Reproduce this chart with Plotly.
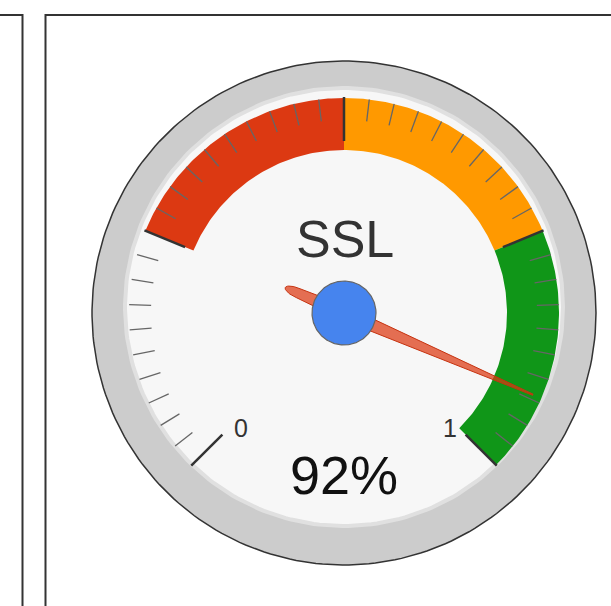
import numpy as np
import plotly.graph_objects as go

# gauge data
title = "SSL"
value = 0.92
value_text = "92%"
band_from = [0.25, 0.5, 0.75]
band_to = [0.5, 0.75, 1.0]
band_colors = ["#dc3912", "#ff9900", "#109618"]
major_ticks = [0, 0.25, 0.5, 0.75, 1]
major_labels = ["0", "", "", "", "1"]
minor_per_major = 10

W, H = 611, 606
cx, cy = 344, 313
R_OUT = 252
R_FACE = 219
R_BAND_OUT, R_BAND_IN = 215, 163


def ang(v):
    # degrees from straight up, clockwise; 270 degree sweep
    return np.radians(-135 + 270 * v)


def pt(v, r, x0=cx, y0=cy):
    a = ang(v)
    return x0 + r * np.sin(a), y0 - r * np.cos(a)


def circle(x0, y0, r, n=240):
    t = np.linspace(0, 2 * np.pi, n)
    return x0 + r * np.cos(t), y0 + r * np.sin(t)


fig = go.Figure()

# outer ring and face
xs, ys = circle(cx, cy, R_OUT)
fig.add_trace(go.Scatter(x=xs, y=ys, fill="toself", fillcolor="#cccccc",
                         line=dict(color="#333333", width=1.5), mode="lines", hoverinfo="skip"))
xs, ys = circle(cx, cy - 6, R_FACE)
fig.add_trace(go.Scatter(x=xs, y=ys, fill="toself", fillcolor="#f7f7f7",
                         line=dict(color="#e0e0e0", width=4), mode="lines", hoverinfo="skip"))

# colour bands
for f, t, c in zip(band_from, band_to, band_colors):
    vs = np.linspace(f, t, 80)
    ox, oy = pt(vs, R_BAND_OUT)
    ix, iy = pt(vs[::-1], R_BAND_IN)
    fig.add_trace(go.Scatter(x=np.r_[ox, ix, ox[:1]], y=np.r_[oy, iy, oy[:1]], fill="toself",
                             fillcolor=c, line=dict(width=0), mode="lines", hoverinfo="skip"))

# minor ticks
minor_x, minor_y = [], []
for a, b in zip(major_ticks[:-1], major_ticks[1:]):
    for k in range(1, minor_per_major):
        v = a + (b - a) * k / minor_per_major
        x1, y1 = pt(v, 193)
        x2, y2 = pt(v, 215)
        minor_x += [x1, x2, None]
        minor_y += [y1, y2, None]
fig.add_trace(go.Scatter(x=minor_x, y=minor_y, mode="lines",
                         line=dict(color="#666666", width=1.3), hoverinfo="skip"))

# major ticks
major_x, major_y = [], []
for v in major_ticks:
    x1, y1 = pt(v, 172)
    x2, y2 = pt(v, 216)
    major_x += [x1, x2, None]
    major_y += [y1, y2, None]
fig.add_trace(go.Scatter(x=major_x, y=major_y, mode="lines",
                         line=dict(color="#333333", width=2.5), hoverinfo="skip"))

# tick labels
for v, lab in zip(major_ticks, major_labels):
    if lab:
        lx, ly = pt(v, 151)
        fig.add_annotation(x=lx + (4 if v < 0.5 else -1), y=ly + 8, text=lab, showarrow=False,
                           font=dict(family="Arial, Liberation Sans", size=25, color="#333333"))

# needle
a = ang(value)
u_dir = np.array([np.sin(a), -np.cos(a)])
w_dir = np.array([np.cos(a), np.sin(a)])
tt = np.linspace(np.pi / 2, 3 * np.pi / 2, 30)
nu = np.r_[206, 0, -50 + 14 * np.cos(tt), 0, 206]
nw = np.r_[0.6, 7, 4.8 * np.sin(tt), -7, -0.6]
fig.add_trace(go.Scatter(x=cx + nu * u_dir[0] + nw * w_dir[0],
                         y=cy + nu * u_dir[1] + nw * w_dir[1],
                         fill="toself", fillcolor="rgba(220,57,18,0.72)",
                         line=dict(color="#c63310", width=1), mode="lines", hoverinfo="skip"))

# hub
xs, ys = circle(cx, cy, 32)
fig.add_trace(go.Scatter(x=xs, y=ys, fill="toself", fillcolor="#4684ee",
                         line=dict(color="#666666", width=1.2), mode="lines", hoverinfo="skip"))

fig.add_annotation(x=cx + 1, y=239, text=title, showarrow=False,
                   font=dict(family="Arial, Liberation Sans", size=52, color="#333333"))
fig.add_annotation(x=cx, y=475, text=value_text, showarrow=False,
                   font=dict(family="Arial, Liberation Sans", size=54, color="#111111"))

# panel borders
fig.add_shape(type="rect", x0=-5, x1=22.5, y0=15, y1=640,
              line=dict(color="#333333", width=2), layer="below")
fig.add_shape(type="rect", x0=45.5, x1=640, y0=15, y1=640,
              line=dict(color="#333333", width=2), layer="below")

fig.update_layout(
    width=W, height=H, margin=dict(l=0, r=0, t=0, b=0),
    paper_bgcolor="white", plot_bgcolor="white", showlegend=False,
    xaxis=dict(range=[0, W], visible=False, fixedrange=True),
    yaxis=dict(range=[H, 0], visible=False, fixedrange=True),
)

fig.write_html("out.html", config={"displayModeBar": False},
               post_script="document.body.style.margin='0';")
